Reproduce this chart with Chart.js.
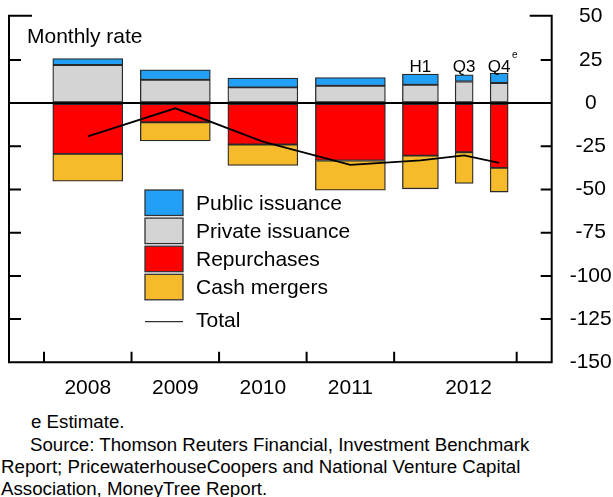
<!DOCTYPE html>
<html>
<head>
<meta charset="utf-8">
<script src="https://cdn.jsdelivr.net/npm/chart.js@4.4.1/dist/chart.umd.min.js"></script>
<style>
html,body{margin:0;padding:0;background:#fff;}
#wrap{position:relative;width:613px;height:497px;overflow:hidden;font-family:"Liberation Sans",Arial,sans-serif;color:#000;}
#c{position:absolute;left:0;top:0;width:613px;height:400px;}
.note{position:absolute;left:1px;font-size:18.7px;line-height:22px;white-space:nowrap;}
</style>
</head>
<body>
<div id="wrap">
<canvas id="c" width="613" height="400"></canvas>
<div class="note" style="top:411px;text-indent:30px;">e Estimate.</div>
<div class="note" style="top:434px;">
<div style="text-indent:29px;">Source: Thomson Reuters Financial, Investment Benchmark</div>
<div>Report; PricewaterhouseCoopers and National Venture Capital</div>
<div>Association, MoneyTree Report.</div>
</div>
</div>
<script>
// ---- data ----
const periods = ['2008', '2009', '2010', '2011', 'H1', 'Q3', 'Q4'];
const periodKind = ['year', 'year', 'year', 'year', 'half', 'quarter', 'quarter'];
const periodPos = [0.5, 1.5, 2.5, 3.5, 4.3, 4.8, 5.2];
const periodNote = ['', '', '', '', '', '', 'e'];
const publicIssuance = [3.8, 5.8, 5.4, 4.8, 6.2, 3.9, 5.8];
const privateIssuance = [22.0, 13.5, 9.1, 10.0, 10.6, 12.5, 11.6];
const repurchases = [-29.4, -11.1, -24.0, -33.2, -30.4, -28.4, -37.5];
const cashMergers = [-15.8, -10.8, -12.1, -17.2, -19.2, -18.1, -14.0];
const total = [-19.3, -3.0, -22.3, -35.8, -33.1, -30.3, -34.6];
const yearLabels = ['2008', '2009', '2010', '2011', '2012'];
const yearLabelPos = [0.5, 1.5, 2.5, 3.5, 4.85];
const yearBoundaries = [0, 1, 2, 3, 4, 5.4];
const yTicks = [50, 25, 0, -25, -50, -75, -100, -125, -150];

// ---- styles ----
const FONT = '"Liberation Sans", Arial, sans-serif';
Chart.defaults.font.family = FONT;
Chart.defaults.color = '#000';

const series = [
  { key: 'private', label: 'Private issuance', data: privateIssuance, color: '#D4D4D4' },
  { key: 'public', label: 'Public issuance', data: publicIssuance, color: '#21A0F6' },
  { key: 'rep', label: 'Repurchases', data: repurchases, color: '#FF0000' },
  { key: 'cash', label: 'Cash mergers', data: cashMergers, color: '#F6BB2A' }
];
const legendOrder = ['public', 'private', 'rep', 'cash'];
const thickness = { year: 70, half: 36, quarter: 18 };

const datasets = [];
['year', 'half', 'quarter'].forEach(kind => {
  series.forEach(s => {
    datasets.push({
      type: 'bar',
      label: s.label,
      data: periods.map((p, i) => periodKind[i] === kind ? { x: periodPos[i], y: s.data[i] } : null).filter(Boolean),
      backgroundColor: s.color,
      borderColor: '#2a2a2a',
      borderWidth: 1.3,
      borderSkipped: false,
      barThickness: thickness[kind],
      stack: 'bars',
      order: 1
    });
  });
});
datasets.push({
  type: 'line',
  label: 'Total',
  data: periodPos.map((x, i) => ({ x: x, y: total[i] })),
  borderColor: '#000',
  borderWidth: 1.8,
  pointRadius: 0,
  tension: 0,
  fill: false,
  stack: 'total',
  order: 0
});

const framePlugin = {
  id: 'frame',
  afterDraw(chart) {
    const { ctx, chartArea: a, scales: { x, y } } = chart;
    ctx.save();
    ctx.strokeStyle = '#000';
    ctx.lineWidth = 2;
    const top = y.getPixelForValue(yTicks[0]) - 1;
    ctx.beginPath();
    ctx.moveTo(a.left + 23, top);
    ctx.lineTo(a.left, top);
    ctx.lineTo(a.left, a.bottom);
    ctx.lineTo(a.right, a.bottom);
    ctx.lineTo(a.right, top);
    ctx.lineTo(a.right - 22, top);
    ctx.stroke();
    ctx.beginPath();
    yTicks.slice(1, -1).forEach(v => {
      const py = y.getPixelForValue(v);
      ctx.moveTo(a.left, py); ctx.lineTo(a.left + 12, py);
      ctx.moveTo(a.right - 11, py); ctx.lineTo(a.right, py);
    });
    yearBoundaries.forEach(v => {
      const px = x.getPixelForValue(v);
      ctx.moveTo(px, a.bottom); ctx.lineTo(px, a.bottom - 10.5);
    });
    ctx.stroke();

    // Title
    ctx.fillStyle = '#000';
    ctx.font = '21px ' + FONT;
    ctx.textAlign = 'left';
    ctx.textBaseline = 'alphabetic';
    ctx.fillText('Monthly rate', a.left + 18, 43.3);

    // sub-period labels
    const subIdx = periods.map((p, i) => i).filter(i => periodKind[i] !== 'year');
    const topPix = Math.min(...subIdx.map(i => y.getPixelForValue(privateIssuance[i] + publicIssuance[i])));
    ctx.font = '17px ' + FONT;
    ctx.textAlign = 'center';
    subIdx.forEach(i => {
      const px = x.getPixelForValue(periodPos[i]);
      const base = topPix - 1.5;
      ctx.fillText(periods[i], px, base);
      if (periodNote[i]) {
        const w = ctx.measureText(periods[i]).width;
        ctx.save();
        ctx.font = '10px ' + FONT;
        ctx.textAlign = 'left';
        ctx.fillText(periodNote[i], px + w / 2 + 1.5, base - 14);
        ctx.restore();
      }
    });

    // Legend
    const lx = 145, ly = 190, sw = 38, sh = 25.5, pitch = 28.1;
    ctx.font = '21px ' + FONT;
    ctx.textAlign = 'left';
    ctx.textBaseline = 'middle';
    legendOrder.forEach((k, j) => {
      const s = series.find(t => t.key === k);
      const ty = ly + j * pitch;
      ctx.fillStyle = s.color;
      ctx.fillRect(lx, ty, sw, sh);
      ctx.strokeStyle = '#333';
      ctx.lineWidth = 1.3;
      ctx.strokeRect(lx, ty, sw, sh);
      ctx.fillStyle = '#000';
      ctx.fillText(s.label, lx + 51, ty + sh / 2 + 1);
    });
    ctx.strokeStyle = '#000';
    ctx.lineWidth = 1;
    ctx.beginPath();
    ctx.moveTo(lx, 321.7); ctx.lineTo(lx + sw, 321.7);
    ctx.stroke();
    ctx.fillText('Total', lx + 51, 321.5);
    ctx.restore();
  }
};

new Chart(document.getElementById('c'), {
  type: 'bar',
  data: { datasets: datasets },
  options: {
    responsive: false,
    animation: false,
    events: [],
    layout: { padding: { left: 9, top: 16.7, right: 0, bottom: 0 } },
    plugins: { legend: { display: false }, tooltip: { enabled: false } },
    scales: {
      x: {
        type: 'linear',
        min: -0.4,
        max: 5.8,
        offset: false,
        bounds: 'data',
        stacked: true,
        grid: { display: false, drawTicks: false },
        border: { display: false },
        afterBuildTicks: s => { s.ticks = yearLabelPos.map(v => ({ value: v })); },
        afterFit: s => { s.height = 37.7; s.paddingLeft = 0; s.paddingRight = 0; },
        ticks: {
          autoSkip: false,
          maxRotation: 0,
          padding: 13,
          font: { size: 21 },
          callback: (v, i) => yearLabels[i]
        }
      },
      y: {
        position: 'right',
        min: -150,
        max: 50,
        stacked: true,
        afterBuildTicks: s => { s.ticks = yTicks.map(v => ({ value: v })); },
        afterFit: s => { s.width = 61.3; s.paddingTop = 0; s.paddingBottom = 0; },
        grid: {
          drawTicks: false,
          color: c => (c.tick && c.tick.value === 0) ? '#000' : 'rgba(0,0,0,0)',
          lineWidth: c => (c.tick && c.tick.value === 0) ? 2 : 0
        },
        border: { display: false },
        ticks: {
          crossAlign: 'center',
          padding: 18,
          font: { size: 21 },
          callback: v => String(v)
        }
      }
    }
  },
  plugins: [framePlugin]
});
</script>
</body>
</html>
